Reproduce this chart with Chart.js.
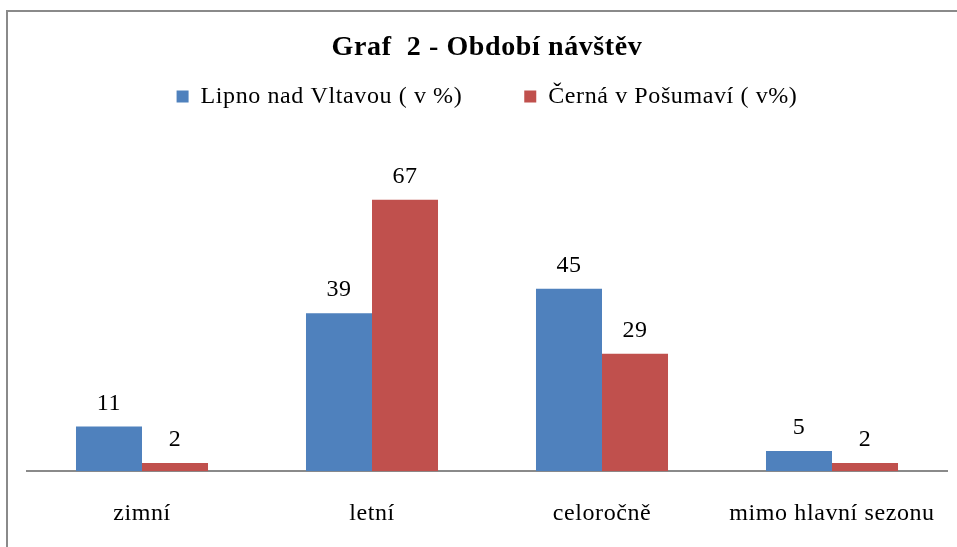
<!DOCTYPE html>
<html>
<head>
<meta charset="utf-8">
<script src="https://cdn.jsdelivr.net/npm/chart.js@4"></script>
<style>
  body { margin: 0; background: #fff; }
  #frame { position: absolute; left: 6px; top: 10px; width: 1000px; height: 600px;
           border-top: 2px solid #8a8a8a; border-left: 2px solid #8a8a8a; }
  #wrap { position: absolute; left: 0; top: 0; width: 957px; height: 547px; }
</style>
</head>
<body>
<div id="frame"></div>
<div id="wrap"><canvas id="navstevyChart"></canvas></div>
<script>
  const kategorie = ['zimní', 'letní', 'celoročně', 'mimo hlavní sezonu'];
  const lipno = [11, 39, 45, 5];
  const cerna = [2, 67, 29, 2];

  const serif = "'Liberation Serif', 'Times New Roman', serif";

  // trochu širší písmo jako ve Wordu
  const rozpalPlugin = {
    id: 'rozpal',
    beforeLayout(chart) { chart.ctx.letterSpacing = '0.6px'; },
    beforeDraw(chart) { chart.ctx.letterSpacing = '0.6px'; }
  };

  // popisky hodnot nad sloupci
  const hodnotyPlugin = {
    id: 'hodnoty',
    afterDatasetsDraw(chart) {
      const ctx = chart.ctx;
      ctx.save();
      ctx.font = '24px ' + serif;
      ctx.fillStyle = '#000';
      ctx.textAlign = 'center';
      ctx.textBaseline = 'alphabetic';
      chart.data.datasets.forEach((ds, i) => {
        chart.getDatasetMeta(i).data.forEach((bar, j) => {
          ctx.fillText(ds.data[j], bar.x, bar.y - 17);
        });
      });
      ctx.restore();
    }
  };

  const ctx = document.getElementById('navstevyChart').getContext('2d');
  const navstevyChart = new Chart(ctx, {
    type: 'bar',
    data: {
      labels: kategorie,
      datasets: [{
        label: 'Lipno nad Vltavou ( v %)',
        data: lipno,
        backgroundColor: '#4F81BD'
      }, {
        label: 'Černá v Pošumaví ( v%)',
        data: cerna,
        backgroundColor: '#C0504D'
      }]
    },
    options: {
      responsive: true,
      maintainAspectRatio: false,
      animation: false,
      layout: { padding: { left: 27, right: 10, top: 0, bottom: -1 } },
      plugins: {
        title: {
          display: true,
          text: 'Graf  2 - Období návštěv',
          color: '#000',
          font: { family: serif, size: 28, weight: 'bold' },
          padding: { top: 31, bottom: -42 }
        },
        legend: {
          labels: {
            color: '#000',
            font: { family: serif, size: 24 },
            boxWidth: 12,
            boxHeight: 12,
            padding: 62
          }
        },
        tooltip: { enabled: false }
      },
      datasets: {
        bar: { categoryPercentage: 0.574, barPercentage: 1 }
      },
      scales: {
        x: {
          grid: { display: false },
          border: { color: '#8a8a8a', width: 2 },
          ticks: { color: '#000', font: { family: serif, size: 24 }, padding: 20, maxRotation: 0 }
        },
        y: {
          display: false,
          min: 0,
          max: 87
        }
      }
    },
    plugins: [rozpalPlugin, hodnotyPlugin]
  });
</script>
</body>
</html>
